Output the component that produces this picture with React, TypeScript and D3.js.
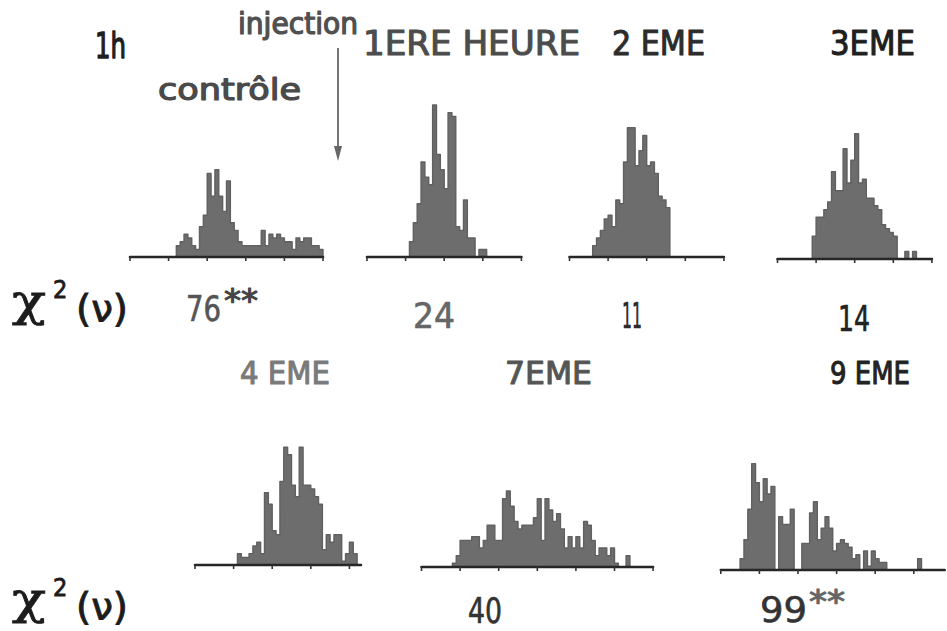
import * as d3 from "d3";
import React from "react";

// class counts per histogram, first value belongs to class index `...Start`
const controleStart = 12;
const controleCounts = [3, 4, 6, 5, 3, 2, 8, 11, 22, 16, 23, 16, 12, 20, 9, 7, 4, 3, 3, 3, 3, 3, 7, 3, 6, 5, 6, 5, 4, 4, 2, 5, 4, 5, 5, 3, 3, 2];
const heure1Start = 11;
const heure1Counts = [4, 9, 14, 25, 21, 19, 40, 27, 23, 18, 38, 37, 8, 7, 15, 5, 5, 0, 2, 2];
const heure2Start = 6;
const heure2Counts = [3, 5, 7, 10, 11, 8, 15, 14, 25, 34, 34, 24, 28, 32, 24, 25, 22, 16, 15, 13];
const heure3Start = 9;
const heure3Counts = [6, 11, 11, 13, 15, 23, 18, 18, 29, 20, 26, 33, 20, 21, 16, 16, 14, 13, 9, 8, 7, 6, 0, 0, 2, 0, 2];
const heure4Start = 11;
const heure4Counts = [3, 2, 2, 3, 5, 6, 3, 19, 16, 9, 8, 22, 31, 29, 21, 18, 31, 21, 21, 20, 18, 16, 4, 8, 6, 8, 8, 1, 3, 6, 3];
const heure7Start = 8;
const heure7Counts = [1, 3, 7, 7, 7, 8, 8, 5, 7, 11, 11, 7, 7, 18, 20, 16, 12, 10, 11, 11, 11, 13, 18, 7, 18, 15, 12, 14, 10, 5, 8, 5, 8, 5, 12, 11, 7, 3, 5, 5, 3, 5, 1, 0, 0, 3];
const heure9Start = 5;
const heure9Counts = [3, 8, 16, 28, 23, 18, 24, 20, 22, 0, 14, 12, 12, 16, 0, 0, 7, 7, 15, 18, 8, 11, 14, 11, 5, 7, 8, 7, 6, 3, 4, 0, 5, 1, 5, 3, 2, 2, 0, 0, 0, 0, 0, 0, 0, 0, 3];

const topLabels = ["1ERE HEURE", "2 EME", "3EME"];
const bottomLabels = ["4 EME", "7EME", "9 EME"];
const chiTopValues = ["76", "24", "11", "14"];
const chiTopStars = ["**", "", "", ""];
const chiBottomValues = ["40", "99"];
const chiBottomStars = ["", "**"];

const BIN_PX = 3.86;
const yScale = d3.scaleLinear().domain([0, 40]).range([0, 152]);
const FONT = "'DejaVu Sans Condensed', 'DejaVu Sans', sans-serif";

type HistoProps = {
  counts: number[];
  start: number;
  nBins: number;
  x0: number;
  y0: number;
};

const Histo = ({ counts, start, nBins, x0, y0 }: HistoProps) => {
  const x = d3.scaleLinear().domain([0, nBins]).range([x0, x0 + nBins * BIN_PX]);
  const pts = counts.map((c, i) => ({ i: start + i, c }));
  pts.push({ i: start + counts.length, c: 0 });

  const area = d3
    .area<{ i: number; c: number }>()
    .x((d) => x(d.i))
    .y0(y0)
    .y1((d) => y0 - yScale(d.c))
    .curve(d3.curveStepAfter);

  const ticks = d3.range(0, nBins + 1, 10);

  return (
    <g>
      <path d={area(pts) || undefined} fill="#6d6d6d" stroke="#606060" strokeWidth={1.4} strokeLinejoin="round" />
      <line x1={x(0)} x2={x(nBins)} y1={y0} y2={y0} stroke="#262626" strokeWidth={2.6} strokeLinecap="round" />
      {ticks.map((t) => (
        <line key={t} x1={x(t)} x2={x(t)} y1={y0} y2={y0 + 4} stroke="#333" strokeWidth={1.6} />
      ))}
    </g>
  );
};

type LabelProps = {
  text: string;
  x: number;
  y: number;
  w: number;
  size: number;
  fill: string;
  thick?: number;
};

// regular face thickened a little with a stroke, closer to the stencil lettering
const Label = ({ text, x, y, w, size, fill, thick = 1 }: LabelProps) => (
  <text
    x={x}
    y={y}
    fontSize={size}
    fill={fill}
    stroke={fill}
    strokeWidth={thick}
    strokeLinejoin="round"
    fontFamily={FONT}
    textLength={w}
    lengthAdjust="spacingAndGlyphs"
  >
    {text}
  </text>
);

const Chi = ({ y }: { y: number }) => (
  <g fill="#1c1c1c" stroke="#1c1c1c" strokeWidth={0.8}>
    <text x={12} y={y - 6} fontSize={44} fontFamily="'DejaVu Serif', serif" textLength={34} lengthAdjust="spacingAndGlyphs">
      χ
    </text>
    <text x={53} y={y - 24} fontSize={25} fontFamily={FONT}>2</text>
    <text x={76} y={y} fontSize={37} fontFamily={FONT} textLength={52} lengthAdjust="spacingAndGlyphs">
      (ν)
    </text>
  </g>
);

export default function App() {
  const topRow = [
    { counts: controleCounts, start: controleStart, nBins: 50, x0: 130, y0: 257 },
    { counts: heure1Counts, start: heure1Start, nBins: 40, x0: 367, y0: 257 },
    { counts: heure2Counts, start: heure2Start, nBins: 40, x0: 569.5, y0: 257 },
    { counts: heure3Counts, start: heure3Start, nBins: 40, x0: 777.5, y0: 259 },
  ];
  const bottomRow = [
    { counts: heure4Counts, start: heure4Start, nBins: 43, x0: 195, y0: 565 },
    { counts: heure7Counts, start: heure7Start, nBins: 60, x0: 421.5, y0: 567 },
    { counts: heure9Counts, start: heure9Start, nBins: 58, x0: 720.8, y0: 570 },
  ];

  // label placement
  const topLabelPos = [
    { x: 363, w: 217, fill: "#4c4c4c" },
    { x: 612, w: 93, fill: "#2c2c2c" },
    { x: 830, w: 85, fill: "#1f1f1f" },
  ];
  const bottomLabelPos = [
    { x: 240, w: 90, fill: "#7a7a7a" },
    { x: 505, w: 87, fill: "#555" },
    { x: 830, w: 80, fill: "#222" },
  ];
  const chiTopPos = [
    { x: 186, y: 321, w: 35, sx: 224, sw: 34, fill: "#555" },
    { x: 413, y: 328, w: 42, sx: 0, sw: 0, fill: "#666" },
    { x: 622, y: 328, w: 20, sx: 0, sw: 0, fill: "#2a2a2a" },
    { x: 838, y: 331, w: 32, sx: 0, sw: 0, fill: "#222" },
  ];
  const chiBottomPos = [
    { x: 468, y: 623, w: 34, sx: 0, sw: 0, fill: "#333" },
    { x: 760, y: 622, w: 47, sx: 809, sw: 36, fill: "#333" },
  ];

  return (
    <div style={{ position: "absolute", left: 0, top: 0 }}>
      <svg width={947} height={631} style={{ display: "block", background: "#fff" }}>
        <Label text="injection" x={238} y={34} w={120} size={30} fill="#505050" thick={1.2} />
        <Label text="1h" x={95} y={58} w={31} size={36} fill="#1e1e1e" thick={1.3} />
        <Label text="contrôle" x={158} y={100} w={143} size={31} fill="#4a4a4a" thick={1.2} />
        <line x1={338} x2={338} y1={48} y2={150} stroke="#666" strokeWidth={1.8} />
        <path d="M334,146 L342,146 L338,161 Z" fill="#666" />

        {topLabels.map((t, i) => (
          <Label key={t} text={t} x={topLabelPos[i].x} y={55} w={topLabelPos[i].w} size={33} fill={topLabelPos[i].fill} />
        ))}

        {topRow.map((h, i) => (
          <Histo key={i} {...h} />
        ))}

        <Chi y={322} />
        {chiTopValues.map((v, i) => (
          <g key={v}>
            <Label text={v} x={chiTopPos[i].x} y={chiTopPos[i].y} w={chiTopPos[i].w} size={35} fill={chiTopPos[i].fill} thick={0.6} />
            {chiTopStars[i] && (
              <Label text={chiTopStars[i]} x={chiTopPos[i].sx} y={chiTopPos[i].y - 10} w={chiTopPos[i].sw} size={32} fill="#444" />
            )}
          </g>
        ))}

        {bottomLabels.map((t, i) => (
          <Label key={t} text={t} x={bottomLabelPos[i].x} y={384} w={bottomLabelPos[i].w} size={32} fill={bottomLabelPos[i].fill} />
        ))}

        {bottomRow.map((h, i) => (
          <Histo key={i} {...h} />
        ))}

        <Chi y={620} />
        {chiBottomValues.map((v, i) => (
          <g key={v}>
            <Label text={v} x={chiBottomPos[i].x} y={chiBottomPos[i].y} w={chiBottomPos[i].w} size={35} fill={chiBottomPos[i].fill} thick={0.6} />
            {chiBottomStars[i] && (
              <Label text={chiBottomStars[i]} x={chiBottomPos[i].sx} y={chiBottomPos[i].y - 10} w={chiBottomPos[i].sw} size={32} fill="#666" />
            )}
          </g>
        ))}
      </svg>
    </div>
  );
}
